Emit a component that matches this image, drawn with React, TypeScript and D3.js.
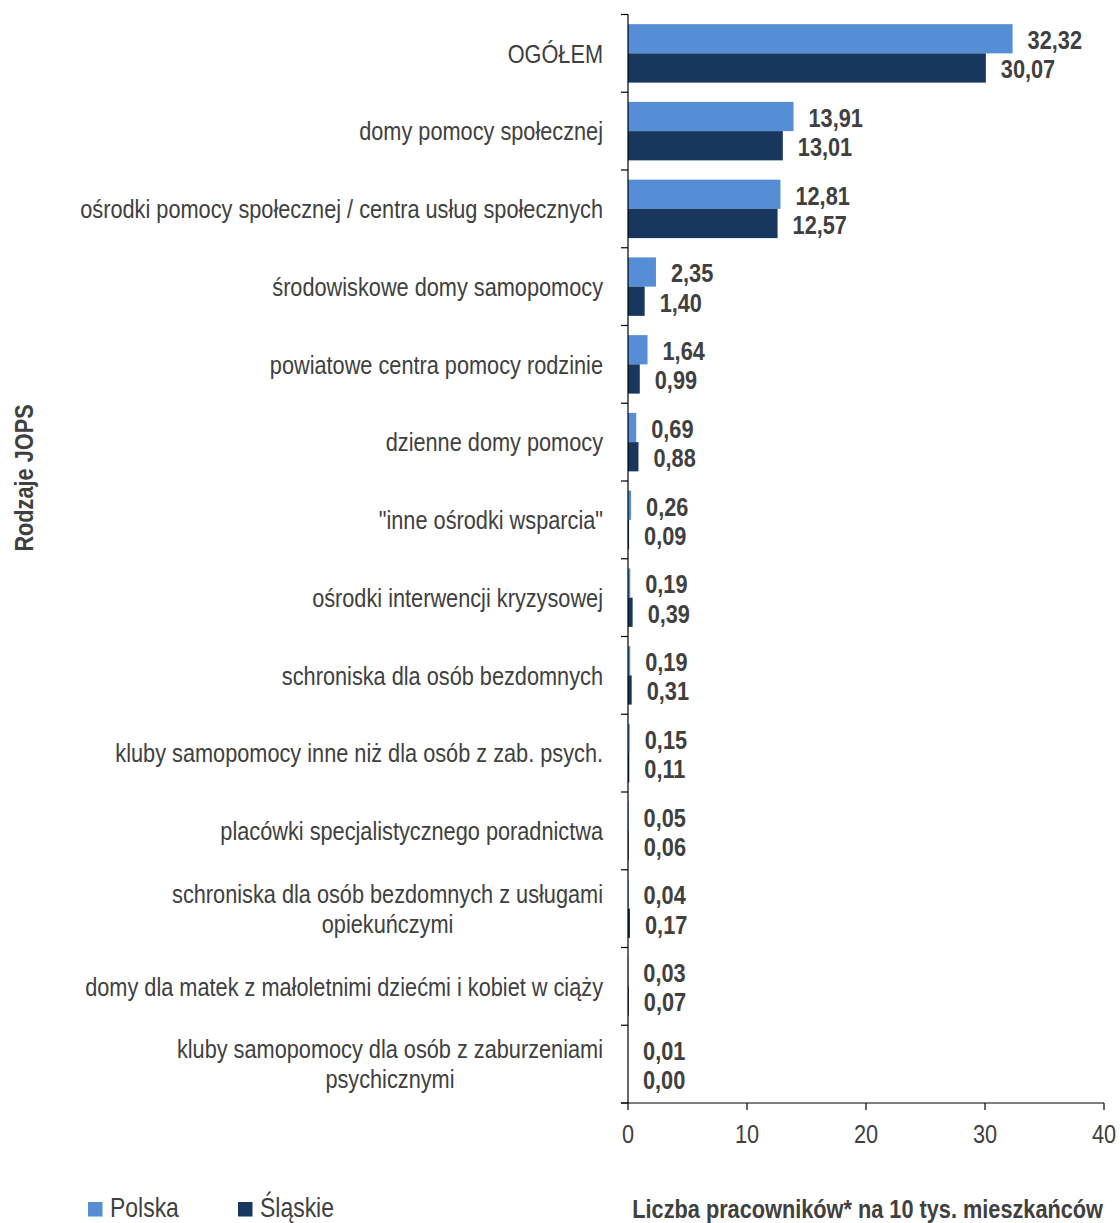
import React from "react";
import * as d3 from "d3";

const categories: string[][] = [
  ["OGÓŁEM"],
  ["domy pomocy społecznej"],
  ["ośrodki pomocy społecznej / centra usług społecznych"],
  ["środowiskowe domy samopomocy"],
  ["powiatowe centra pomocy rodzinie"],
  ["dzienne domy pomocy"],
  ["\"inne ośrodki wsparcia\""],
  ["ośrodki interwencji kryzysowej"],
  ["schroniska dla osób bezdomnych"],
  ["kluby samopomocy inne niż dla osób z zab. psych."],
  ["placówki specjalistycznego poradnictwa"],
  ["schroniska dla osób bezdomnych z usługami", "opiekuńczymi"],
  ["domy dla matek z małoletnimi dziećmi i kobiet w ciąży"],
  ["kluby samopomocy dla osób z zaburzeniami", "psychicznymi"],
];

const polska: number[] = [32.32, 13.91, 12.81, 2.35, 1.64, 0.69, 0.26, 0.19, 0.19, 0.15, 0.05, 0.04, 0.03, 0.01];
const slaskie: number[] = [30.07, 13.01, 12.57, 1.4, 0.99, 0.88, 0.09, 0.39, 0.31, 0.11, 0.06, 0.17, 0.07, 0.0];

const seriesNames = ["Polska", "Śląskie"];
const seriesColors = ["#558ED5", "#17375E"];
const xTicks = [0, 10, 20, 30, 40];
const xTitle = "Liczba pracowników* na 10 tys. mieszkańców";
const yTitle = "Rodzaje JOPS";

const FONT = "'Liberation Sans', Arial, sans-serif";
const TXT = "#404040";
const SX = 0.82; // narrow font emulation

type NTProps = {
  x: number;
  y: number;
  size: number;
  anchor?: "start" | "middle" | "end";
  bold?: boolean;
  rotate?: number;
  baseline?: string;
  children: React.ReactNode;
};

function NText({ x, y, size, anchor = "start", bold = false, rotate = 0, baseline = "central", children }: NTProps) {
  return (
    <g transform={`translate(${x},${y}) rotate(${rotate}) scale(${SX},1)`}>
      <text x={0} y={0} fontSize={size} fontWeight={bold ? "bold" : "normal"} textAnchor={anchor}
        dominantBaseline={baseline} fill={TXT} fontFamily={FONT}>
        {children}
      </text>
    </g>
  );
}

export default function App() {
  const W = 1120;
  const H = 1223;
  const x = d3.scaleLinear().domain([0, 40]).range([628, 1104]);
  const idx = categories.map((_, i) => String(i));
  const y = d3.scaleBand().domain(idx).range([14.5, 1103]).paddingInner(0).paddingOuter(0);
  const y1 = d3.scaleBand().domain(seriesNames).range([0, y.bandwidth()]).paddingInner(0).paddingOuter(0.33);
  const data = [polska, slaskie];
  const fmt = (v: number) => v.toFixed(2).replace(".", ",");

  return (
    <svg width={W} height={H} style={{ position: "absolute", left: 0, top: 0, background: "#fff" }}
      fontFamily={FONT}>
      {/* bars */}
      {data.map((vals, s) =>
        vals.map((v, i) => {
          const by = (y(String(i)) as number) + (y1(seriesNames[s]) as number);
          return (
            <g key={`${s}-${i}`}>
              <rect x={x(0)} y={by} width={Math.max(0, x(v) - x(0))} height={y1.bandwidth()} fill={seriesColors[s]} />
              <NText x={x(v) + 15} y={by + y1.bandwidth() / 2 + 1} size={26.5} bold>{fmt(v)}</NText>
            </g>
          );
        })
      )}
      {/* y axis */}
      <line x1={x(0)} x2={x(0)} y1={14.5} y2={1103} stroke="#000" strokeWidth={1.2} />
      {d3.range(categories.length + 1).map((i) => {
        const yy = 14.5 + i * y.step();
        return <line key={i} x1={x(0) - 7} x2={x(0)} y1={yy} y2={yy} stroke="#000" strokeWidth={1.2} />;
      })}
      {categories.map((lines, i) => {
        const cy = (y(String(i)) as number) + y.bandwidth() / 2;
        const lh = 30;
        const startY = cy - ((lines.length - 1) * lh) / 2;
        if (lines.length === 1) {
          return <NText key={i} x={603} y={cy} size={26.5} anchor="end">{lines[0]}</NText>;
        }
        // multi-line: block right-aligned at 603, lines centered within block
        return (
          <g key={i} transform={`translate(603,0) scale(${SX},1)`}>
            {lines.map((l, k) => (
              <text key={k} x={0} y={startY + k * lh} fontSize={26.5} textAnchor="end" dominantBaseline="central"
                fill={TXT} fontFamily={FONT}
                ref={(el) => {
                  if (el && k > 0) {
                    const sib = el.parentNode?.firstChild as SVGTextElement | null;
                    if (sib && sib !== el) {
                      const wl = sib.getComputedTextLength();
                      const wm = el.getComputedTextLength();
                      el.setAttribute("x", String(-(wl - wm) / 2));
                    }
                  }
                }}>
                {l}
              </text>
            ))}
          </g>
        );
      })}
      {/* x axis */}
      <line x1={x(0) - 7} x2={x(40)} y1={1103} y2={1103} stroke="#000" strokeWidth={1.2} />
      {xTicks.map((t) => (
        <g key={t}>
          <line x1={x(t)} x2={x(t)} y1={1103} y2={1110} stroke="#000" strokeWidth={1.2} />
          <NText x={x(t)} y={1134} size={26.5} anchor="middle">{t}</NText>
        </g>
      ))}
      <NText x={1103} y={1218} size={26.5} anchor="end" bold baseline="alphabetic">{xTitle}</NText>
      {/* y title */}
      <NText x={24} y={478} size={26.5} anchor="middle" bold rotate={-90}>{yTitle}</NText>
      {/* legend */}
      {seriesNames.map((n, s) => {
        const lx = [88, 238][s];
        return (
          <g key={n}>
            <rect x={lx} y={1202} width={14.5} height={14.5} fill={seriesColors[s]} />
            <NText x={lx + 22} y={1217} size={28} baseline="alphabetic">{n}</NText>
          </g>
        );
      })}
    </svg>
  );
}
